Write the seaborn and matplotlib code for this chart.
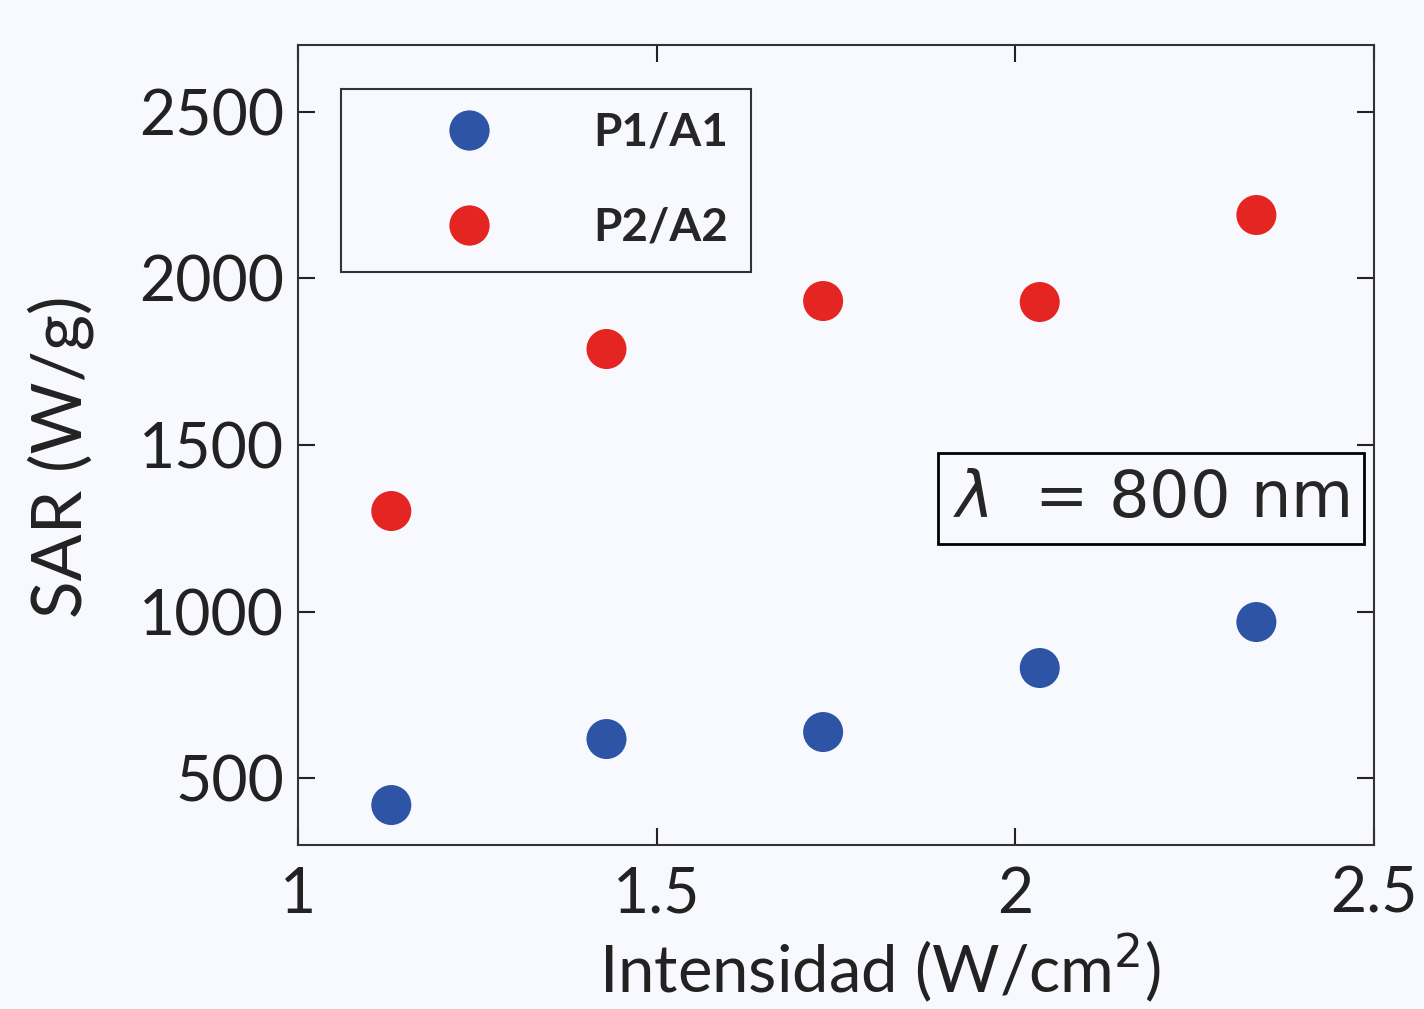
import matplotlib
matplotlib.use("Agg")
import matplotlib.pyplot as plt
from matplotlib.lines import Line2D
import seaborn as sns
import pandas as pd

# Measured data
intensity = [1.13, 1.43, 1.732, 2.034, 2.336]
sar_p1 = [420, 618, 639, 831, 969]
sar_p2 = [1302, 1788, 1932, 1929, 2190]
series_labels = ["P1/A1", "P2/A2"]
x_ticks = [1, 1.5, 2, 2.5]
x_tick_labels = ["1", "1.5", "2", "2.5"]
y_ticks = [500, 1000, 1500, 2000, 2500]

sns.set_theme(style="ticks")
bg = "#F7F9FE"
plt.rcParams["font.family"] = ["Lato", "DejaVu Sans"]
plt.rcParams["mathtext.fontset"] = "dejavusans"

df = pd.DataFrame({
    "x": intensity * 2,
    "y": sar_p1 + sar_p2,
    "serie": [series_labels[0]] * len(intensity) + [series_labels[1]] * len(intensity),
})

fig = plt.figure(figsize=(14.24, 10.09), dpi=100, facecolor=bg)
ax = fig.add_axes([0.2093, 0.1625, 0.7556, 0.7929])
ax.set_facecolor(bg)

palette = {series_labels[0]: "#2E55A5", series_labels[1]: "#E52521"}
sns.scatterplot(data=df, x="x", y="y", hue="serie", palette=palette, s=830,
                edgecolor="none", ax=ax, legend=False, zorder=3)

ax.set_xlim(1, 2.5)
ax.set_ylim(300, 2700)
ax.set_xticks(x_ticks)
ax.set_xticklabels(x_tick_labels)
ax.set_yticks(y_ticks)
ax.tick_params(direction="in", length=12, width=1.5, top=True, right=True,
               labelsize=45, colors="#222222")
ax.tick_params(axis="y", pad=10)
ax.tick_params(axis="x", pad=15)
for s in ax.spines.values():
    s.set_color("#333333")
    s.set_linewidth(1.5)

ax.set_xlabel("Intensidad (W/cm$^2$)", fontsize=47, color="#222222")
ax.xaxis.set_label_coords(0.541, -0.108)
ax.set_ylabel("SAR (W/g)", fontsize=50, color="#222222")
ax.yaxis.set_label_coords(-0.19, 0.485)

handles = [Line2D([], [], marker="o", linestyle="none", markersize=29,
                  markerfacecolor=palette[l], markeredgecolor="none") for l in series_labels]
leg = ax.legend(handles, series_labels, loc="upper left", bbox_to_anchor=(0.04, 0.945),
                fontsize=33, frameon=True, fancybox=False, edgecolor="#333333",
                facecolor=bg, framealpha=1, labelspacing=1.15, handletextpad=0.4,
                borderpad=0.5, borderaxespad=0, handlelength=4.6)
leg.get_frame().set_linewidth(1.5)
for t in leg.get_texts():
    t.set_fontweight("bold")

ax.text(0.9768, 0.433, r"$\lambda$  = 800 nm", transform=ax.transAxes, ha="right", va="center",
        fontsize=46, family="DejaVu Sans",
        bbox=dict(boxstyle="square,pad=0.23", facecolor=bg, edgecolor="black", linewidth=2))

fig.savefig("out.png", dpi=100, facecolor=bg)
